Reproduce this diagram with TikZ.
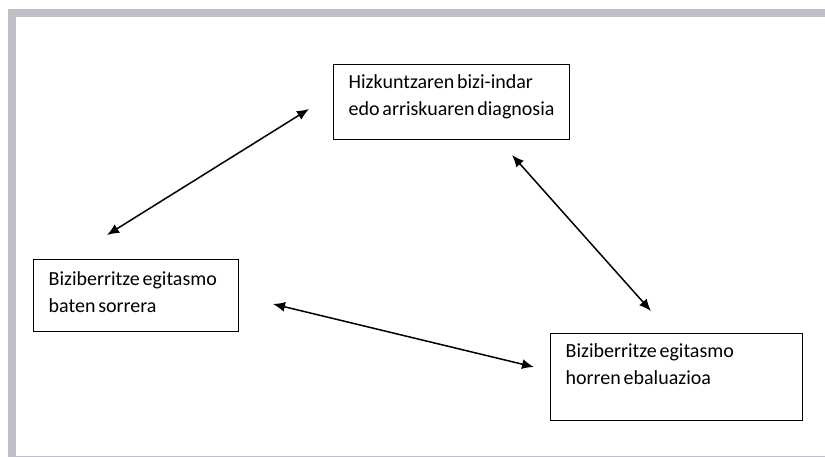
\documentclass[tikz,border=0pt]{standalone}
\usepackage{fontspec}
\setmainfont{Carlito}
\usetikzlibrary{arrows.meta}
\definecolor{framegray}{RGB}{190,191,196}
\newcommand{\boxtxt}[3]{\parbox[t][#2][t]{#1}{\fontsize{20pt}{27pt}\selectfont\spaceskip=0.14em\raggedright\rule{0pt}{24pt}#3}}

\begin{document}
\begin{tikzpicture}[x=1pt,y=-1pt]
\useasboundingbox (0,0) rectangle (825,457);
% frame
\fill[framegray] (8,9) rectangle (825,17);
\fill[framegray] (8,9) rectangle (16,457);
\draw[framegray,line width=1pt] (16,456) -- (825,456);

\begin{scope}
\tikzstyle{every node}=[draw, line width=1.4pt, anchor=north west, inner xsep=15pt, inner ysep=0pt];
\draw (333,64) node (diag) {\boxtxt{206pt}{75pt}{Hizkuntzaren bizi-indar\\edo arriskuaren diagnosia}};
\draw (33,259) node (sorr) {\boxtxt{175pt}{72pt}{\rule{0pt}{26pt}Biziberritze egitasmo\\baten sorrera}};
\draw (550,333) node (ebal) {\boxtxt{222pt}{87pt}{Biziberritze egitasmo\\horren ebaluazioa}};

% arrow ends
\coordinate (d1) at (309,109);
\coordinate (s1) at (107,235);
\coordinate (d2) at (512,155);
\coordinate (e1) at (651,311);
\coordinate (s2) at (273,304);
\coordinate (e2) at (534,367);

\draw[line width=1.5pt, {Latex[length=12pt,width=10pt]}-{Latex[length=12pt,width=10pt]}] (s1) -- (d1);
\draw[line width=1.5pt, {Latex[length=12pt,width=10pt]}-{Latex[length=12pt,width=10pt]}] (d2) -- (e1);
\draw[line width=1.5pt, {Latex[length=12pt,width=10pt]}-{Latex[length=12pt,width=10pt]}] (s2) -- (e2);
\end{scope}
\end{tikzpicture}
\end{document}
